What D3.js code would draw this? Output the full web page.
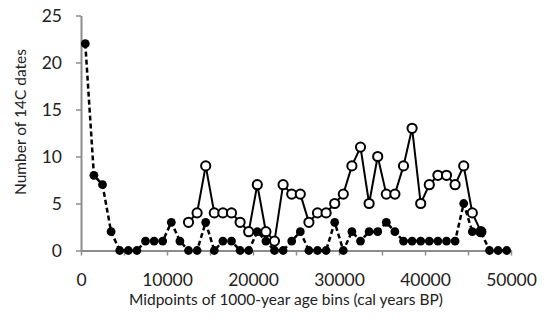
<!DOCTYPE html>
<html>
<head>
<meta charset="utf-8">
<script src="https://cdn.jsdelivr.net/npm/d3@7"></script>
<style>
  html, body { margin: 0; padding: 0; background: #fff; }
  svg { display: block; }
  text { font-family: Lato, "Open Sans", "Liberation Sans", sans-serif; fill: #222; }
</style>
</head>
<body>
<svg id="chart" width="552" height="320"></svg>
<script>
// Midpoints of the 1000-year age bins (cal years BP)
const binMidpoints = [
  500, 1500, 2500, 3500, 4500, 5500, 6500, 7500, 8500, 9500,
  10500, 11500, 12500, 13500, 14500, 15500, 16500, 17500, 18500, 19500,
  20500, 21500, 22500, 23500, 24500, 25500, 26500, 27500, 28500, 29500,
  30500, 31500, 32500, 33500, 34500, 35500, 36500, 37500, 38500, 39500,
  40500, 41500, 42500, 43500, 44500, 45500, 46500, 47500, 48500, 49500
];

// Counts per bin, filled markers with dashed line
const countsFilled = [
  22, 8, 7, 2, 0, 0, 0, 1, 1, 1,
  3, 1, 0, 0, 3, 0, 1, 1, 0, 0,
  2, 1, 0, 0, 1, 2, 0, 0, 0, 3,
  0, 2, 1, 2, 2, 3, 2, 1, 1, 1,
  1, 1, 1, 1, 5, 2, 2, 0, 0, 0
];

// Counts per bin, open markers with solid line (null = no value)
const countsOpen = [
  null, null, null, null, null, null, null, null, null, null,
  null, null, 3, 4, 9, 4, 4, 4, 3, 2,
  7, 2, 1, 7, 6, 6, 3, 4, 4, 5,
  6, 9, 11, 5, 10, 6, 6, 9, 13, 5,
  7, 8, 8, 7, 9, 4, 2, null, null, null
];

const xTicks = [0, 5000, 10000, 15000, 20000, 25000, 30000, 35000, 40000, 45000, 50000];
const xLabelTicks = [0, 10000, 20000, 30000, 40000, 50000];
const yTicks = [0, 5, 10, 15, 20, 25];

const svg = d3.select("#chart");

const x = d3.scaleLinear().domain([0, 50000]).range([81, 511]);
const y = d3.scaleLinear().domain([0, 25]).range([250.5, 15.5]);

const axisColor = "#8c8c8c";
const fontStack = 'Lato, "Open Sans", sans-serif';

// x axis
const gx = svg.append("g")
  .attr("transform", `translate(0,${y(0)})`)
  .call(d3.axisBottom(x)
    .tickValues(xTicks)
    .tickSize(5)
    .tickSizeOuter(0)
    .tickFormat(d => xLabelTicks.includes(d) ? d3.format("d")(d) : ""));
gx.select(".domain").attr("stroke", axisColor).attr("stroke-width", 2);
gx.selectAll(".tick line").attr("stroke", axisColor).attr("stroke-width", 1.5);
gx.selectAll(".tick text")
  .attr("font-size", 17.5)
  .attr("y", 35)
  .attr("dy", 0)
  .attr("font-family", fontStack)
  .attr("fill", "#222");

// y axis
const gy = svg.append("g")
  .attr("transform", `translate(${x(0)},0)`)
  .call(d3.axisLeft(y)
    .tickValues(yTicks)
    .tickSize(5)
    .tickSizeOuter(0)
    .tickFormat(d3.format("d")));
gy.select(".domain").attr("stroke", axisColor).attr("stroke-width", 2);
gy.selectAll(".tick line").attr("stroke", axisColor).attr("stroke-width", 1.5);
gy.selectAll(".tick text")
  .attr("font-size", 17.5)
  .attr("x", -19)
  .attr("font-family", fontStack)
  .attr("fill", "#222");

// axis titles
svg.append("text")
  .attr("x", 286)
  .attr("y", 305)
  .attr("text-anchor", "middle")
  .attr("font-size", 15.5)
  .text("Midpoints of 1000-year age bins (cal years BP)");

svg.append("text")
  .attr("transform", "translate(26,122) rotate(-90)")
  .attr("text-anchor", "middle")
  .attr("font-size", 15.5)
  .text("Number of 14C dates");

// open series: solid line + hollow circles
const openPts = binMidpoints.map((m, i) => ({ m, v: countsOpen[i] }));
const lineOpen = d3.line()
  .defined(d => d.v !== null)
  .x(d => x(d.m))
  .y(d => y(d.v));
svg.append("path")
  .datum(openPts)
  .attr("fill", "none")
  .attr("stroke", "#000")
  .attr("stroke-width", 2)
  .attr("d", lineOpen);
svg.append("g").selectAll("circle")
  .data(openPts.filter(d => d.v !== null))
  .join("circle")
  .attr("cx", d => x(d.m))
  .attr("cy", d => y(d.v))
  .attr("r", 4.6)
  .attr("fill", "#fff")
  .attr("stroke", "#000")
  .attr("stroke-width", 2);

// filled series: dashed line + solid dots
const filledPts = binMidpoints.map((m, i) => ({ m, v: countsFilled[i] }));
const lineFilled = d3.line()
  .x(d => x(d.m))
  .y(d => y(d.v));
svg.append("path")
  .datum(filledPts)
  .attr("fill", "none")
  .attr("stroke", "#000")
  .attr("stroke-width", 2.5)
  .attr("stroke-dasharray", "5,3")
  .attr("d", lineFilled);
svg.append("g").selectAll("circle")
  .data(filledPts)
  .join("circle")
  .attr("cx", d => x(d.m))
  .attr("cy", d => y(d.v))
  .attr("r", 4.4)
  .attr("fill", "#000");
</script>
</body>
</html>
